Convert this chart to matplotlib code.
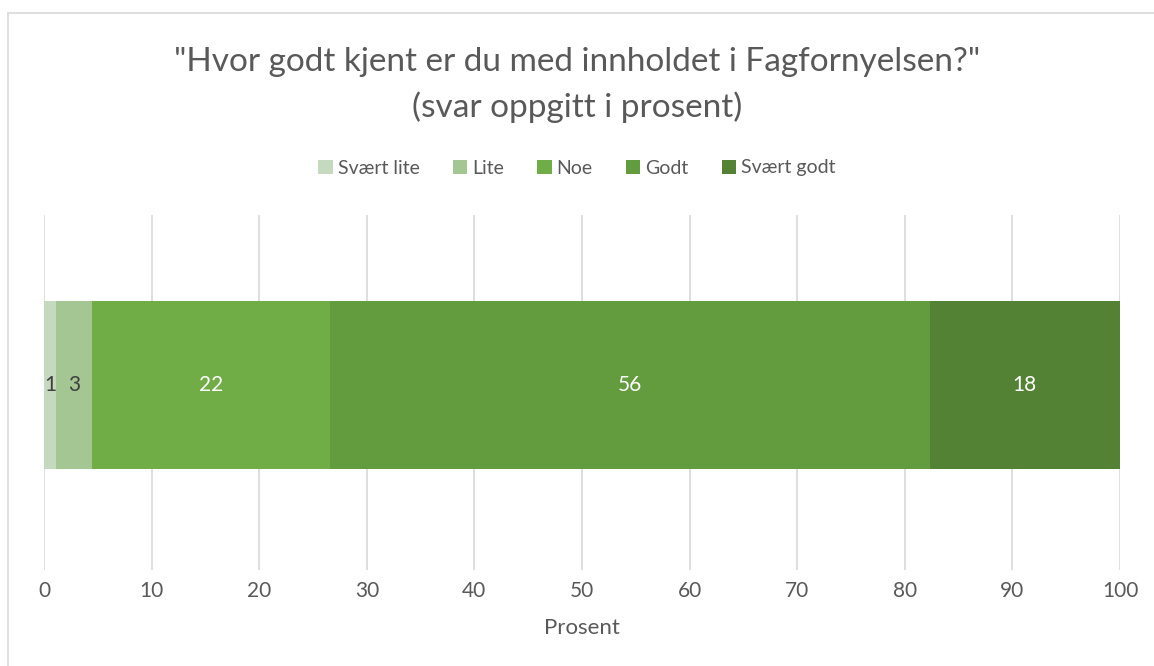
import matplotlib
matplotlib.use("Agg")
import matplotlib.pyplot as plt
from matplotlib.patches import Rectangle

categories = ["Svært lite", "Lite", "Noe", "Godt", "Svært godt"]
values = [1.1, 3.4, 22.1, 55.7, 17.7]
colors = ["#C5D9BE", "#A3C692", "#70AD47", "#639B3F", "#538234"]
label_colors = ["#404040", "#404040", "white", "white", "white"]
xticks = [0, 10, 20, 30, 40, 50, 60, 70, 80, 90, 100]

plt.rcParams['font.family'] = ['Lato', 'DejaVu Sans']

fig = plt.figure(figsize=(11.54, 6.66), dpi=100)
fig.patches.append(Rectangle((8/1154, -0.1), 1.2, 1 - 13/666 + 0.1, transform=fig.transFigure,
                             fill=False, edgecolor="#D9D9D9", linewidth=1.2))

ax = fig.add_axes([44/1154, 1 - 570/666, (1120 - 44)/1154, (570 - 215)/666])
left = 0
for cat, v, c, lc in zip(categories, values, colors, label_colors):
    ax.barh(0, v, left=left, height=0.473, color=c, label=cat, zorder=3)
    ax.text(left + v / 2, 0, f"{v:.0f}", ha="center", va="center", color=lc, fontsize=15, zorder=4)
    left += v

ax.set_xlim(0, 100)
ax.set_ylim(-0.52, 0.48)
ax.set_xticks(xticks)
ax.set_yticks([])
ax.xaxis.grid(True, color="#D9D9D9", linewidth=1.2, zorder=0)
for s in ax.spines.values():
    s.set_visible(False)
ax.tick_params(axis="x", length=0, labelsize=15, labelcolor="#595959", pad=8)
ax.set_xlabel("Prosent", fontsize=16, color="#595959", labelpad=12)

fig.text(0.5, 1 - 62/666, "\"Hvor godt kjent er du med innholdet i Fagfornyelsen?\"", ha="center", va="center",
         fontsize=24, color="#595959")
fig.text(0.5, 1 - 107/666, "(svar oppgitt i prosent)", ha="center", va="center", fontsize=24, color="#595959")

leg = fig.legend(loc="center", bbox_to_anchor=(0.5, 1 - 168/666), ncol=5, frameon=False, fontsize=14,
                 handlelength=0.75, handleheight=0.75, handletextpad=0.25, columnspacing=1.7,
                 labelcolor="#595959")

fig.savefig("out.png", dpi=100)
